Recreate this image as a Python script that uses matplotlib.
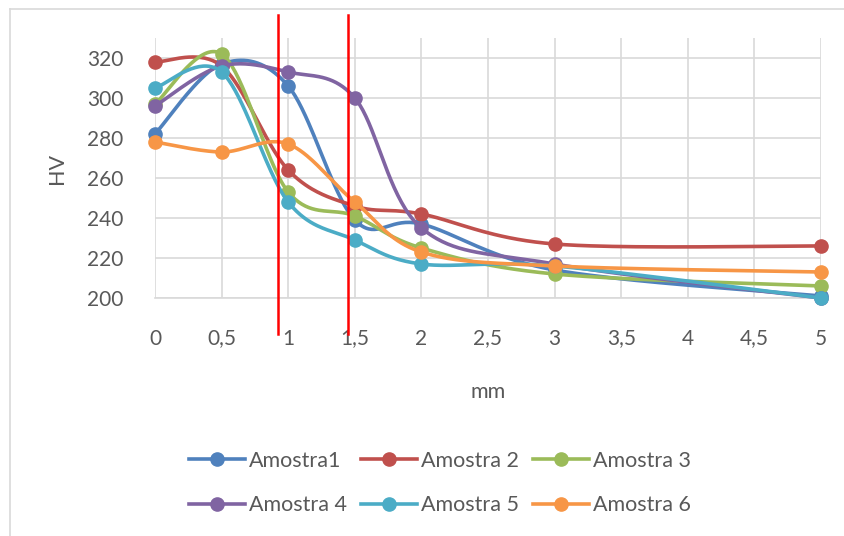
import numpy as np
import matplotlib.pyplot as plt
from matplotlib.lines import Line2D

# Data
x_mm = [0, 0.5, 1, 1.5, 2, 3, 5]
amostra1 = [282, 317, 306, 239, 237, 214, 201]
amostra2 = [318, 316, 264, 246, 242, 227, 226]
amostra3 = [297, 322, 253, 241, 225, 212, 206]
amostra4 = [296, 316, 313, 300, 235, 217, 200]
amostra5 = [305, 313, 248, 229, 217, 216, 200]
amostra6 = [278, 273, 277, 248, 223, 216, 213]
labels = ["Amostra1", "Amostra 2", "Amostra 3", "Amostra 4", "Amostra 5", "Amostra 6"]
colors = ["#4F81BD", "#C0504D", "#9BBB59", "#8064A2", "#4BACC6", "#F79646"]

# red vertical marks drawn over the chart
red_x = [0.923, 1.449]
red_span = [182, 341.5]

x_ticks = [0, 0.5, 1, 1.5, 2, 2.5, 3, 3.5, 4, 4.5, 5]
x_ticklabels = ["0", "0,5", "1", "1,5", "2", "2,5", "3", "3,5", "4", "4,5", "5"]
y_ticks = [200, 220, 240, 260, 280, 300, 320]


def smooth(xs, ys, n=40):
    # Excel-like smoothed line (Catmull-Rom as cubic Bezier)
    p = np.column_stack([xs, ys]).astype(float)
    pts = np.vstack([p[0], p, p[-1]])
    out = []
    t = np.linspace(0, 1, n)[:, None]
    for i in range(1, len(pts) - 2):
        p0, p1, p2, p3 = pts[i - 1], pts[i], pts[i + 1], pts[i + 2]
        c1 = p1 + (p2 - p0) / 6
        c2 = p2 - (p3 - p1) / 6
        seg = ((1 - t) ** 3) * p1 + 3 * ((1 - t) ** 2) * t * c1 + 3 * (1 - t) * t ** 2 * c2 + t ** 3 * p2
        out.append(seg if i == 1 else seg[1:])
    out = np.vstack(out)
    return out[:, 0], out[:, 1]


plt.rcParams['font.family'] = ['Lato', 'DejaVu Sans']
text_col = "#595959"
grid_col = "#D9D9D9"

fig = plt.figure(figsize=(8.45, 5.36), dpi=100)
ax = fig.add_axes([155 / 845, 1 - 298 / 536, (821 - 155) / 845, (298 - 38) / 536])

series = [amostra1, amostra2, amostra3, amostra4, amostra5, amostra6]
handles = []
for ys, col, lab in zip(series, colors, labels):
    sx, sy = smooth(x_mm, ys)
    ax.plot(sx, sy, color=col, lw=2.6, solid_capstyle='round', zorder=3, clip_on=False)
    ax.plot(x_mm, ys, 'o', color=col, ms=9.5, zorder=3, clip_on=False)
    handles.append(Line2D([], [], color=col, lw=2.6, marker='o', ms=9.5, label=lab))

ax.set_xlim(0, 5)
ax.set_ylim(200, 330)
ax.set_xticks(x_ticks)
ax.set_xticklabels(x_ticklabels)
ax.set_yticks(y_ticks)
ax.tick_params(length=0, labelsize=15, labelcolor=text_col)
ax.tick_params(axis='x', pad=22)
ax.tick_params(axis='y', pad=23)
ax.grid(True, color=grid_col, lw=1.2, zorder=0)
for s in ['top', 'right', 'left']:
    ax.spines[s].set_visible(False)
ax.spines['bottom'].set_color(grid_col)
ax.spines['bottom'].set_linewidth(1.2)

ax.set_xlabel("mm", fontsize=15.5, color=text_col, labelpad=24)
ax.set_ylabel("HV", fontsize=15.5, color=text_col, labelpad=14)

for rx in red_x:
    ax.plot([rx, rx], red_span, color="#FF0000", lw=1.8, clip_on=False, zorder=5)

order = [0, 3, 1, 4, 2, 5]
fig.legend([handles[i] for i in order], [labels[i] for i in order], ncol=3,
           loc='center', bbox_to_anchor=(440 / 845, 1 - 483 / 536), frameon=False,
           fontsize=15.5, labelcolor=text_col, handlelength=2.6, handletextpad=0.2,
           columnspacing=0.65, labelspacing=1.15)

# chart area border (only top and left edges visible in the crop)
fig.add_artist(Line2D([10 / 845, 10 / 845], [0, 1 - 9 / 536], color=grid_col, lw=1.2))
fig.add_artist(Line2D([10 / 845, 1], [1 - 9 / 536, 1 - 9 / 536], color=grid_col, lw=1.2))

fig.savefig("out.png", dpi=100)
